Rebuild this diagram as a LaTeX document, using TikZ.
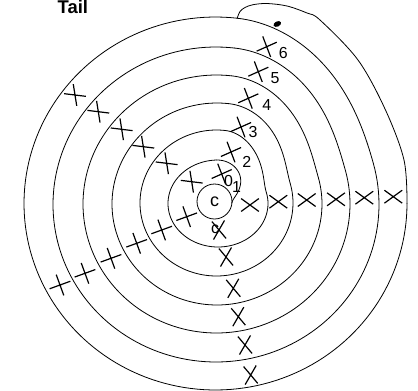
\documentclass[tikz,border=0pt]{standalone}
\usepackage{fontspec}
\setsansfont{Liberation Sans}
\usetikzlibrary{calc}
\tikzset{
  declare function={sm(\u)=\u*\u*(3-2*\u);},
  sp/.style={line width=0.8bp, line cap=round, line join=round},
  xs/.style={line width=1.2bp, line cap=butt},
  lab/.style={font=\sffamily\fontsize{16}{16}\selectfont, inner sep=0pt},
}
\newcommand\El[6]{\draw[sp] plot[domain=#5:#6,samples=140,variable=\t] ({#1+#3*cos(\t)},{#2-#4*sin(\t)});}
\newcommand\Tr[8]{\draw[sp] plot[domain=15:83.5,samples=50,variable=\t]
  ({(1-sm((\t-15)/68.5))*(#1+#3*cos(\t))+sm((\t-15)/68.5)*(#5+#7*cos(\t))},
   {(1-sm((\t-15)/68.5))*(#2-#4*sin(\t))+sm((\t-15)/68.5)*(#6-#8*sin(\t))});}
\newcommand\xmk[4]{\draw[xs] ($(#1,#2)+(#3:11)$) -- ($(#1,#2)-(#3:11)$) ($(#1,#2)+(#4:11)$) -- ($(#1,#2)-(#4:11)$);}
\begin{document}
\begin{tikzpicture}[x=1bp,y=-1bp]
\useasboundingbox (0,0) rectangle (418,391);
% centre circle
\node[draw, circle, line width=0.8bp, minimum size=35bp, inner sep=0pt,
      font=\sffamily\fontsize{18}{18}\selectfont] (c) at (214.5,201.5) {c};
% inner loop from the centre circle to the first turn
\draw[sp] plot[domain=-5:92,samples=60,variable=\t]
  ({(1-sm((\t+5)/97))*(214.5+17.5*cos(\t))+sm((\t+5)/97)*(218+50*cos(\t))},
   {(1-sm((\t+5)/97))*(201.5-17.5*sin(\t))+sm((\t+5)/97)*(203.5-43.5*sin(\t))});
% spiral turns
\El{218}{203.5}{50}{43.5}{92}{375}
\Tr{218}{203.5}{50}{43.5}{216.5}{203}{76.5}{73}
\El{216.5}{203}{76.5}{73}{83.5}{375}
\Tr{216.5}{203}{76.5}{73}{217}{204}{105}{101}
\El{217}{204}{105}{101}{83.5}{375}
\Tr{217}{204}{105}{101}{216.5}{204}{133.5}{129}
\El{216.5}{204}{133.5}{129}{83.5}{375}
\Tr{216.5}{204}{133.5}{129}{216}{204.5}{163}{157.5}
\El{216}{204.5}{163}{157.5}{83.5}{375}
\Tr{216}{204.5}{163}{157.5}{215.5}{203.5}{191.5}{186.5}
\El{215.5}{203.5}{191.5}{186.5}{83.5}{360}
% tail
\draw[sp] plot[smooth,tension=0.55] coordinates {(407,203.5) (404,160) (385.5,110) (358,60) (320,20) (307,13) (287,6) (267,3.5) (253,4.7) (245,7.5) (240,11.5) (237.2,18.2)};
\fill[rotate around={25:(277.3,24)}] (277.3,24) ellipse [x radius=4, y radius=2.6];
% crosses: right row
\xmk{250}{205}{36}{-36}
\xmk{278.3}{201.7}{36}{-36}
\xmk{306.7}{200}{36}{-36}
\xmk{336}{199.3}{36}{-36}
\xmk{364.3}{197.7}{36}{-36}
\xmk{393.3}{196.7}{36}{-36}
% up-left row
\xmk{75}{95}{7}{81}
\xmk{98.3}{111.7}{7}{81}
\xmk{121.7}{129.3}{7}{81}
\xmk{143.3}{146.7}{7}{81}
\xmk{166.7}{163.3}{7}{81}
\xmk{191.7}{181.7}{7}{81}
% numbered row
\xmk{266.7}{46.7}{-24}{69}
\xmk{258.3}{71.7}{-24}{69}
\xmk{248.3}{98.3}{-24}{69}
\xmk{241}{127}{-24}{69}
\xmk{231}{152}{-24}{69}
\xmk{221.7}{174}{-24}{69}
% down-left row
\xmk{186.7}{216.7}{-20}{70}
\xmk{161.7}{230}{-20}{70}
\xmk{136.7}{243.3}{-20}{70}
\xmk{111}{258.3}{-20}{70}
\xmk{85}{273.3}{-20}{70}
\xmk{60}{285}{-20}{70}
% down row
\xmk{219}{230}{50}{-60}
\xmk{226}{257}{50}{-60}
\xmk{233.3}{288.3}{50}{-60}
\xmk{238.3}{316.7}{50}{-60}
\xmk{245}{345}{50}{-60}
\xmk{250.7}{375}{50}{-60}
% labels
\node[lab] (l6) at (283.3,53) {6};
\node[lab] (l5) at (275,78.5) {5};
\node[lab] (l4) at (266.7,105) {4};
\node[lab] (l3) at (253,132) {3};
\node[lab] (l2) at (246.7,161.7) {2};
\node[lab] (l0) at (228.5,181) {0};
\node[lab] (l1) at (236.5,187.5) {1};
\node[lab] (lc) at (215,229.5) {c};
\node[font=\sffamily\bfseries\fontsize{18.5}{18.5}\selectfont, inner sep=0pt, anchor=base west] (tail) at (57.5,13.3) {Tail};
\end{tikzpicture}
\end{document}
